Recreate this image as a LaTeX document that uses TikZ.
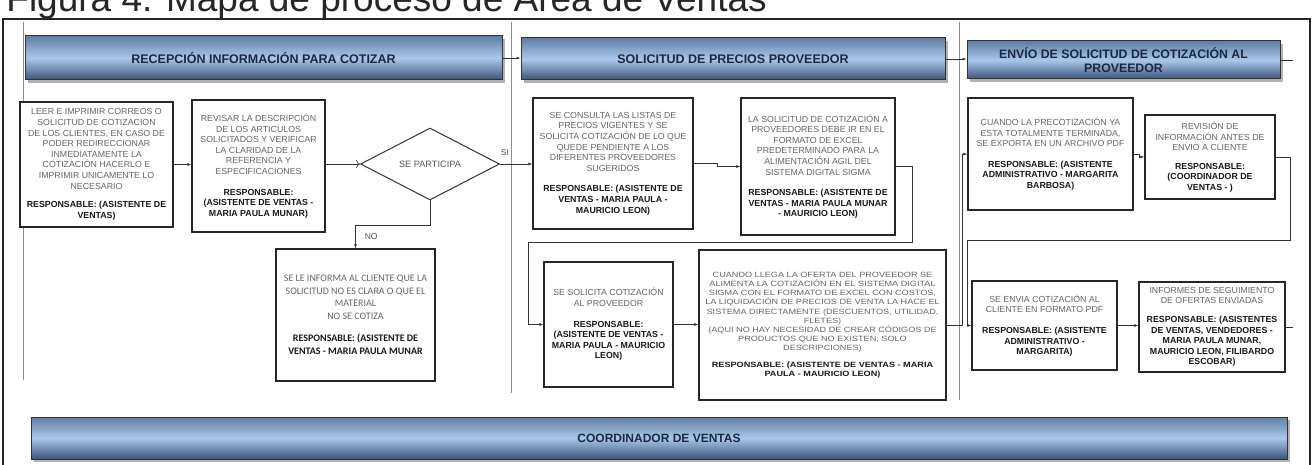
\documentclass[tikz,border=0pt]{standalone}
\usepackage{fontspec}
\setmainfont{Liberation Sans}
\newfontfamily\calibrifont{Carlito}
\newfontfamily\widefont[FakeStretch=1.2]{Liberation Sans}
\usetikzlibrary{shapes.geometric,shadows,arrows.meta}

\newcommand{\resp}[1]{{\bfseries\color{black!90}#1}}

\begin{document}
\begin{tikzpicture}[x=1pt, y=-1pt, thick]

  % Define Colors
  \definecolor{barlight}{RGB}{170,199,235}
  \definecolor{bardark}{RGB}{58,84,120}
  \definecolor{bartop}{RGB}{96,126,164}
  \definecolor{bartext}{RGB}{28,40,66}

  % Styles
  \tikzstyle{lanebar}=[rectangle, draw=black!80, line width=1pt, top color=bartop, bottom color=bardark, middle color=barlight, drop shadow={shadow xshift=3pt, shadow yshift=-3pt, fill=black!60}, font=\fontsize{12.5}{14}\selectfont\bfseries, text=bartext, align=center, inner sep=0pt]
  \tikzstyle{task}=[rectangle, draw=black!85, line width=1.2pt, fill=white, align=center, text=black!60, font=\fontsize{8.8}{10.6}\selectfont, inner sep=1pt]
  \tikzstyle{decision}=[diamond, draw=black!80, line width=1pt, fill=white, inner sep=0pt, font=\fontsize{9.2}{11}\selectfont, text=black!65]
  \tikzstyle{flow}=[line width=0.6pt, black!80, -{Latex[length=4pt,width=3pt]}]
  \tikzstyle{plainline}=[line width=0.6pt, black!80]
  \tikzstyle{laneline}=[line width=0.6pt, black!45]
  \tikzstyle{lbl}=[font=\fontsize{8.5}{10}\selectfont, text=black!70, inner sep=1pt]

  \useasboundingbox (0,0) rectangle (1314,465);
  \clip (0,0) rectangle (1314,465);

  % Title and frame
  \node[anchor=base west, font=\fontsize{37}{40}\selectfont, text=black!85, inner sep=0pt] (title) at (6,12) {Figura 4. Mapa de proceso de Área de Ventas};
  \draw[line width=1.2pt, black!85] (3,19) rectangle (1310,470);
  \draw[laneline] (23,22) -- (23,380);
  \draw[laneline] (511,22) -- (511,393);
  \draw[laneline] (959,22) -- (959,400);

  % Lane headers
  \node[lanebar, minimum width=477, minimum height=44] (bar_rec) at (263.5,58) {RECEPCIÓN INFORMACIÓN PARA COTIZAR};
  \node[lanebar, minimum width=424, minimum height=42] (bar_sol) at (733,59) {SOLICITUD DE PRECIOS PROVEEDOR};
  \node[lanebar, minimum width=313, minimum height=38, font=\fontsize{12.3}{14.5}\selectfont\bfseries] (bar_env) at (1123.5,60) {ENVÍO DE SOLICITUD DE COTIZACIÓN AL\\PROVEEDOR};
  \node[lanebar, minimum width=1256, minimum height=42, font=\fontsize{12}{14}\selectfont\bfseries] (bar_coord) at (659,438) {COORDINADOR DE VENTAS};
  \coordinate (env_end) at (1293,60);

  % Lane 1
  \node[task, minimum width=153, minimum height=125] (leer) at (96.5,164.5) {LEER E IMPRIMIR CORREOS O\\SOLICITUD DE COTIZACION\\DE LOS CLIENTES, EN CASO DE\\PODER REDIRECCIONAR\\INMEDIATAMENTE LA\\COTIZACIÓN HACERLO E\\IMPRIMIR UNICAMENTE LO\\NECESARIO\\[8pt]\resp{RESPONSABLE: (ASISTENTE DE}\\\resp{VENTAS)}};
  \node[task, minimum width=133, minimum height=132] (revisar) at (258.5,166) {REVISAR LA DESCRIPCIÓN\\DE LOS ARTICULOS\\SOLICITADOS Y VERIFICAR\\LA CLARIDAD DE LA\\REFERENCIA Y\\ESPECIFICACIONES\\[10pt]\resp{RESPONSABLE:}\\\resp{(ASISTENTE DE VENTAS -}\\\resp{MARIA PAULA MUNAR)}};
  \node[decision, minimum width=139, minimum height=72] (participa) at (430,164) {SE PARTICIPA};
  \node[task, minimum width=159, minimum height=132, font=\calibrifont\fontsize{10}{12.5}\selectfont] (informa) at (355.5,315) {SE LE INFORMA AL CLIENTE QUE LA\\SOLICITUD NO ES CLARA O QUE EL\\MATERIAL\\NO SE COTIZA\\[10pt]\resp{RESPONSABLE: (ASISTENTE DE}\\\resp{VENTAS - MARIA PAULA MUNAR}};

  % Lane 2
  \node[task, minimum width=160, minimum height=131] (consulta) at (613,163.5) {SE CONSULTA LAS LISTAS DE\\PRECIOS VIGENTES Y SE\\SOLICITA COTIZACIÓN DE LO QUE\\QUEDE PENDIENTE A LOS\\DIFERENTES PROVEEDORES\\SUGERIDOS\\[10pt]\resp{RESPONSABLE: (ASISTENTE DE}\\\resp{VENTAS - MARIA PAULA -}\\\resp{MAURICIO LEON)}};
  \node[task, minimum width=154, minimum height=137] (solicitud) at (818,166.5) {LA SOLICITUD DE COTIZACIÓN A\\PROVEEDORES DEBE IR EN EL\\FORMATO DE EXCEL\\PREDETERMINADO PARA LA\\ALIMENTACIÓN AGIL DEL\\SISTEMA DIGITAL SIGMA\\[10pt]\resp{RESPONSABLE: (ASISTENTE DE}\\\resp{VENTAS - MARIA PAULA MUNAR}\\\resp{- MAURICIO LEON)}};
  \node[task, minimum width=129, minimum height=125] (pide) at (608.5,324.5) {SE SOLICITA COTIZACIÓN\\AL PROVEEDOR\\[10pt]\resp{RESPONSABLE:}\\\resp{(ASISTENTE DE VENTAS -}\\\resp{MARIA PAULA - MAURICIO}\\\resp{LEON)}};
  \node[task, minimum width=247, minimum height=150, font=\widefont\fontsize{7.6}{9.2}\selectfont] (oferta) at (822.5,325) {CUANDO LLEGA LA OFERTA DEL PROVEEDOR SE\\ALIMENTA LA COTIZACIÓN EN EL SISTEMA DIGITAL\\SIGMA CON EL FORMATO DE EXCEL CON COSTOS,\\LA LIQUIDACIÓN DE PRECIOS DE VENTA LA HACE EL\\SISTEMA DIRECTAMENTE (DESCUENTOS, UTILIDAD,\\FLETES)\\(AQUI NO HAY NECESIDAD DE CREAR CÓDIGOS DE\\PRODUCTOS QUE NO EXISTEN, SOLO\\DESCRIPCIONES)\\[7pt]\resp{RESPONSABLE: (ASISTENTE DE VENTAS - MARIA}\\\resp{PAULA - MAURICIO LEON)}};

  % Lane 3
  \node[task, minimum width=165, minimum height=112] (precot) at (1050.5,154) {CUANDO LA PRECOTIZACIÓN YA\\ESTA TOTALMENTE TERMINADA,\\SE EXPORTA EN UN ARCHIVO PDF\\[10pt]\resp{RESPONSABLE: (ASISTENTE}\\\resp{ADMINISTRATIVO - MARGARITA}\\\resp{BARBOSA)}};
  \node[task, minimum width=130, minimum height=84] (revision) at (1210,157) {REVISIÓN DE\\INFORMACIÓN ANTES DE\\ENVIO A CLIENTE\\[8pt]\resp{RESPONSABLE:}\\\resp{(COORDINADOR DE}\\\resp{VENTAS - )}};
  \node[task, minimum width=145, minimum height=89] (envia) at (1044.5,325.5) {SE ENVIA COTIZACIÓN AL\\CLIENTE EN FORMATO PDF\\[10pt]\resp{RESPONSABLE: (ASISTENTE}\\\resp{ADMINISTRATIVO -}\\\resp{MARGARITA)}};
  \node[task, minimum width=146, minimum height=90] (seguim) at (1212,327) {INFORMES DE SEGUIMIENTO\\DE OFERTAS ENVIADAS\\[8pt]\resp{RESPONSABLE: (ASISTENTES}\\\resp{DE VENTAS, VENDEDORES -}\\\resp{MARIA PAULA MUNAR,}\\\resp{MAURICIO LEON, FILIBARDO}\\\resp{ESCOBAR)}};
  \coordinate (seg_end) at (1293,327);

  % Header links
  \draw[flow] (bar_rec.east) -- (bar_sol.west |- bar_rec.east);
  \draw[flow] (bar_sol.east) -- (bar_env.west |- bar_sol.east);
  \draw[plainline] (bar_env.east) -- (env_end);

  % Lane 1 links
  \draw[flow] (leer.east) -- (revisar.west |- leer.east);
  \draw[plainline, -{To[length=4pt]}] (revisar.east |- participa.west) -- (participa.west);
  \draw[flow] (participa.east) -- (consulta.west |- participa.east) node[lbl, pos=0.15, above, yshift=7pt] {SI};
  \draw[flow] (participa.south) -- ++(0,25) -| (informa.north) node[lbl, pos=0.75, right=8pt] {NO};

  % Lane 2 links
  \draw[flow] (consulta.east) -- ++(24,0) |- (solicitud.west);
  \draw[flow] (solicitud.east) -| (912,242) -- (528,242) |- (pide.west);
  \draw[flow] (pide.east) -- (oferta.west |- pide.east);
  \draw[flow] (oferta.east) -- ++(16,0) |- (precot.west);

  % Lane 3 links
  \draw[flow] (precot.east) -- ++(6,0) |- (revision.west);
  \draw[flow] (revision.east) -| (1290,240) -- (967,240) |- (envia.west);
  \draw[flow] (envia.east) -- (seguim.west |- envia.east);
  \draw[plainline] (seguim.east) -- (seg_end);

\end{tikzpicture}
\end{document}
